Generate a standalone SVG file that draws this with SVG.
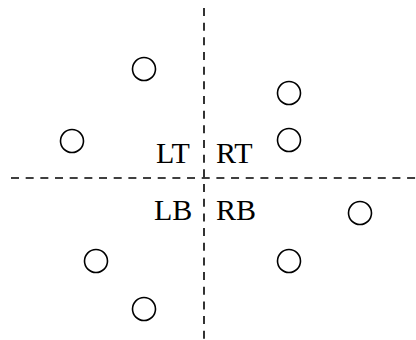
<svg xmlns="http://www.w3.org/2000/svg" width="416" height="340" viewBox="0 0 416 340">
  <style>
    .axis { stroke: #000; stroke-width: 1.6; stroke-dasharray: 8 6.67; fill: none; }
    .pt { fill: #fff; stroke: #000; stroke-width: 1.6; }
  </style>
  <rect width="416" height="340" fill="#fff"/>
  <!-- quadrant axes -->
  <g id="axes">
    <line class="axis" x1="204" y1="8" x2="204" y2="340"/>
    <line class="axis" x1="11" y1="178" x2="416" y2="178"/>
  </g>
  <!-- quadrant labels -->
  <g id="labels" font-family="'Liberation Serif', 'Times New Roman', serif" font-size="30" fill="#000">
    <text x="156" y="163">LT</text>
    <text x="216" y="163">RT</text>
    <text x="154" y="220">LB</text>
    <text x="216" y="220">RB</text>
  </g>
  <!-- sample points -->
  <g id="p1"><circle class="pt" cx="144" cy="69" r="11.5"/></g>
  <g id="p2"><circle class="pt" cx="289" cy="93" r="11.5"/></g>
  <g id="p3"><circle class="pt" cx="72" cy="141" r="11.5"/></g>
  <g id="p4"><circle class="pt" cx="289" cy="140" r="11.5"/></g>
  <g id="p5"><circle class="pt" cx="360" cy="213" r="11.5"/></g>
  <g id="p6"><circle class="pt" cx="96" cy="261" r="11.5"/></g>
  <g id="p7"><circle class="pt" cx="289" cy="261" r="11.5"/></g>
  <g id="p8"><circle class="pt" cx="144" cy="309" r="11.5"/></g>
</svg>
